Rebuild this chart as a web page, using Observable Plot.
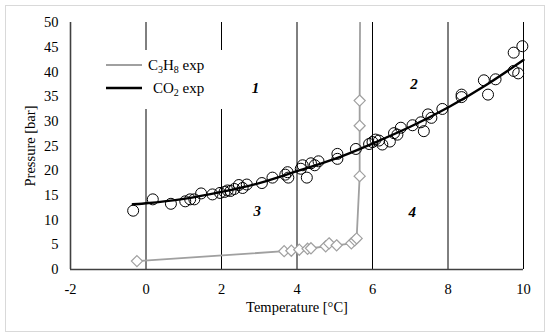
<!DOCTYPE html>
<html>
<head>
<meta charset="utf-8">
<script src="https://cdn.jsdelivr.net/npm/d3@7"></script>
<script src="https://cdn.jsdelivr.net/npm/@observablehq/plot@0.6"></script>
<style>
  body { margin: 0; background: #fff; }
  #wrap { position: relative; width: 550px; height: 336px; }
</style>
</head>
<body>
<div id="wrap"></div>
<script>
// CO2 experimental points (temperature °C, pressure bar)
const co2T = [-0.34,0.18,0.66,1.04,1.17,1.28,1.46,1.76,1.96,2.08,2.16,2.24,2.34,2.46,2.56,2.67,3.07,3.35,3.69,3.75,3.77,4.1,4.15,4.26,4.37,4.47,4.57,5.07,5.07,5.56,5.91,6.0,6.08,6.17,6.26,6.46,6.57,6.66,6.75,7.06,7.28,7.36,7.47,7.56,7.85,8.36,8.36,8.95,9.06,9.26,9.74,9.74,9.86,9.97];
const co2P = [11.9,14.2,13.3,13.8,14.2,14.2,15.4,15.2,15.5,15.7,16.0,15.9,16.3,17.1,16.5,17.2,17.5,18.6,19.2,19.7,18.6,20.4,21.1,18.6,21.5,21.1,21.9,23.4,22.4,24.4,25.4,25.8,26.3,26.1,25.3,25.9,27.6,27.3,28.7,29.2,29.8,28.0,31.4,30.7,32.5,35.4,34.9,38.3,35.4,38.5,43.9,40.2,39.7,45.2];
// CO2 trend line
const co2LineT = [-0.35,0,1,2,3,4,5,6,7,8,9,10];
const co2LineP = [13.2,13.4,14.3,15.7,17.5,19.9,22.4,25.5,28.9,32.8,37.3,42.4];
// C3H8 experimental points
const c3T = [-0.24,3.66,3.85,4.06,4.28,4.37,4.76,4.85,5.05,5.44,5.53,5.58,5.66,5.66,5.66];
const c3P = [1.7,3.7,3.8,4.0,4.2,4.3,4.7,5.3,4.9,5.3,5.9,6.3,18.9,29.1,34.2];
// C3H8 line continues to the top of the chart
const c3LineTopT = 5.67;
const c3LineTopP = 50;
// Region labels
const regionLabel = ["1","2","3","4"];
const regionT = [2.9,7.1,2.95,7.05];
const regionP = [36.8,37.6,11.9,11.7];
// Axis ticks and section boundaries
const xTicks = [-2,0,2,4,6,8,10];
const yTicks = [0,5,10,15,20,25,30,35,40,45,50];
const boundaries = [0,2,4,6,8,10];

const co2 = co2T.map((t,i)=>({t, p: co2P[i]}));
const co2Line = co2LineT.map((t,i)=>({t, p: co2LineP[i]}));
const c3 = c3T.map((t,i)=>({t, p: c3P[i]}));
const c3Line = [...c3, {t: c3LineTopT, p: c3LineTopP}];
const regions = regionLabel.map((s,i)=>({s, t: regionT[i], p: regionP[i]}));

const gray = "#a0a0a0";
const font = "Liberation Serif, Times New Roman, serif";

const chart = Plot.plot({
  width: 550, height: 336,
  marginLeft: 70, marginRight: 27, marginTop: 22, marginBottom: 67,
  style: {fontFamily: font, fontSize: "14px", color: "#000", background: "transparent"},
  x: {domain: [-2, 10]},
  y: {domain: [0, 50]},
  marks: [
    Plot.ruleX(boundaries, {y1: 0, y2: 50, stroke: "#000", strokeWidth: 1}),
    Plot.ruleX([-2], {y1: 0, y2: 50, stroke: "#404040", strokeWidth: 1.6}),
    Plot.ruleY([0], {stroke: "#404040", strokeWidth: 1.6}),
    Plot.axisX({ticks: xTicks, tickSize: 0, tickPadding: 14, tickFormat: d => String(d),
      label: "Temperature [°C]", labelAnchor: "center", labelArrow: "none", labelOffset: 42, fontSize: 14.5}),
    Plot.axisY({ticks: yTicks, tickSize: 0, tickPadding: 12, tickFormat: d => String(d),
      label: "Pressure [bar]", labelAnchor: "center", labelArrow: "none", labelOffset: 46, fontSize: 14.5}),
    Plot.line(c3Line, {x: "t", y: "p", stroke: gray, strokeWidth: 1.8, clip: true}),
    Plot.dot(c3, {x: "t", y: "p", symbol: "diamond2", r: 5, stroke: gray, fill: "white", strokeWidth: 1.2}),
    Plot.dot(co2, {x: "t", y: "p", r: 5.5, stroke: "#000", fill: "none", strokeWidth: 1}),
    Plot.line(co2Line, {x: "t", y: "p", stroke: "#000", strokeWidth: 2.4, curve: "natural"}),
    Plot.text(regions, {x: "t", y: "p", text: "s", fontStyle: "italic", fontWeight: "bold", fontSize: 15, fill: "#000"})
  ]
});

const wrap = document.getElementById("wrap");
wrap.appendChild(chart);

// frame and legend (decoration)
const svg = d3.select(chart);
svg.insert("rect", ":first-child")
  .attr("x", 5.5).attr("y", 5.5).attr("width", 539).attr("height", 326)
  .attr("fill", "white").attr("stroke", "#d9d9d9").attr("stroke-width", 1);

const leg = svg.append("g").attr("font-family", font).attr("font-size", 15).attr("text-anchor", "start");
leg.append("rect").attr("x", 96).attr("y", 50).attr("width", 136).attr("height", 59).attr("fill", "white");
const items = [
  {parts: [["C",0],["3",1],["H",0],["8",1],[" exp",0]], color: gray, y: 65, tx: 148},
  {parts: [["CO",0],["2",1],[" exp",0]], color: "#000", y: 88, tx: 153}
];
for (const it of items) {
  leg.append("line").attr("x1", 106).attr("x2", 142).attr("y1", it.y).attr("y2", it.y)
    .attr("stroke", it.color).attr("stroke-width", it.color === "#000" ? 2.4 : 1.8);
  const t = leg.append("text").attr("x", it.tx).attr("y", it.y + 5).attr("fill", "#000").attr("text-anchor", "start");
  let prevSub = false;
  for (const [s, sub] of it.parts) {
    const ts = t.append("tspan").text(s);
    if (sub) ts.attr("font-size", 10).attr("dy", 3);
    else ts.attr("dy", prevSub ? -3 : 0);
    prevSub = !!sub;
  }
}
</script>
</body>
</html>
